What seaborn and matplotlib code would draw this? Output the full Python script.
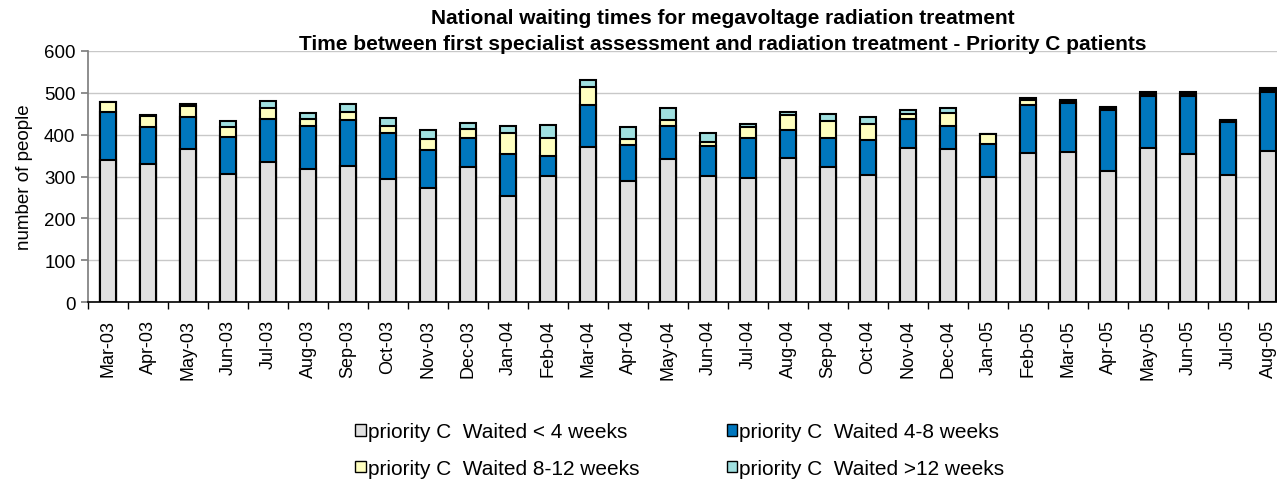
import numpy as np
import pandas as pd
import matplotlib
matplotlib.use("Agg")
import matplotlib.pyplot as plt
from matplotlib.patches import Patch
import seaborn as sns

months = ["Mar-03", "Apr-03", "May-03", "Jun-03", "Jul-03", "Aug-03", "Sep-03", "Oct-03",
          "Nov-03", "Dec-03", "Jan-04", "Feb-04", "Mar-04", "Apr-04", "May-04", "Jun-04",
          "Jul-04", "Aug-04", "Sep-04", "Oct-04", "Nov-04", "Dec-04", "Jan-05", "Feb-05",
          "Mar-05", "Apr-05", "May-05", "Jun-05", "Jul-05", "Aug-05"]

under4 = [339, 329, 365, 306, 335, 319, 326, 294, 273, 322, 254, 302, 371, 290, 341, 302,
          297, 345, 323, 303, 367, 365, 298, 357, 359, 314, 369, 353, 303, 361]
w4_8 = [116, 90, 78, 89, 103, 101, 109, 109, 90, 71, 100, 47, 101, 85, 79, 71,
        96, 66, 68, 84, 71, 56, 80, 115, 117, 146, 123, 139, 127, 142]
w8_12 = [24, 25, 25, 24, 25, 18, 20, 17, 26, 20, 49, 42, 43, 14, 16, 10,
         25, 36, 42, 39, 11, 30, 23, 12, 3, 3, 5, 5, 3, 4]
over12 = [0, 2, 6, 13, 18, 14, 18, 19, 21, 16, 17, 32, 15, 29, 27, 20,
          7, 8, 16, 17, 9, 12, 0, 3, 3, 3, 5, 6, 3, 4]

series_names = ["priority C  Waited < 4 weeks", "priority C  Waited 4-8 weeks",
                "priority C  Waited 8-12 weeks", "priority C  Waited >12 weeks"]
colors = ["#E0E0E0", "#0077BE", "#FFFFC0", "#A0E0E0"]

df = pd.DataFrame({"month": months, "s1": under4, "s2": w4_8, "s3": w8_12, "s4": over12})
c1 = df["s1"]
c2 = c1 + df["s2"]
c3 = c2 + df["s3"]
c4 = c3 + df["s4"]

sns.set_theme(style="white")
plt.rcParams["font.family"] = ["Liberation Sans", "DejaVu Sans"]
plt.rcParams["text.color"] = "black"
plt.rcParams["axes.labelcolor"] = "black"
plt.rcParams["xtick.color"] = "black"
plt.rcParams["ytick.color"] = "black"

fig = plt.figure(figsize=(12.77, 4.85), dpi=100)
L, R = 88 / 1277, 1288 / 1277
B, T = (485 - 303) / 485, (485 - 52) / 485
ax = fig.add_axes([L, B, R - L, T - B])

for cum, col in zip([c4, c3, c2, c1], colors[::-1]):
    sns.barplot(x=df["month"], y=cum, color=col, width=0.4, edgecolor="black",
                linewidth=1.5, saturation=1, ax=ax, order=months, errorbar=None)

ax.set_ylim(0, 600)
ax.set_xlim(-0.5, len(months) - 0.5)
ax.set_yticks(range(0, 601, 100))
ax.yaxis.grid(True, color="#C8C8C8", linewidth=1)
ax.set_axisbelow(True)
ax.set_xlabel("")
ax.set_ylabel("number of people", fontsize=13.5, labelpad=8, color="black")

ax.set_xticks(range(len(months)))
ax.set_xticklabels(months, rotation=90, fontsize=13)
ax.set_xticks(np.arange(-0.5, len(months), 1), minor=True)
ax.tick_params(axis="x", which="major", length=0, pad=12, labelcolor="black")
ax.tick_params(axis="x", which="minor", length=5, color="black", direction="out", bottom=True)
ax.tick_params(axis="y", length=5, color="#808080", direction="out", left=True,
               labelsize=13.5, pad=4, labelcolor="black")

for s in ["top", "right"]:
    ax.spines[s].set_visible(False)
ax.spines["left"].set_color("#808080")
ax.spines["bottom"].set_color("black")
ax.spines["bottom"].set_linewidth(1.2)

fig.text(723 / 1277, 1 - 18 / 485, "National waiting times for megavoltage radiation treatment",
         ha="center", va="center", fontsize=15, fontweight="bold", color="black")
fig.text(723 / 1277, 1 - 45 / 485,
         "Time between first specialist assessment and radiation treatment - Priority C patients",
         ha="center", va="center", fontsize=15, fontweight="bold", color="black")

handles = [Patch(facecolor=c, edgecolor="black", linewidth=1) for c in colors]
order = [0, 2, 1, 3]
leg = fig.legend([handles[i] for i in order], [series_names[i] for i in order],
                 loc="center", bbox_to_anchor=(680 / 1277, 1 - 451 / 485), ncol=2,
                 frameon=False, fontsize=15, handlelength=0.5, handleheight=0.5,
                 handletextpad=0.1, columnspacing=4.2, labelspacing=0.85)
for t in leg.get_texts():
    t.set_color("black")

fig.savefig("out.png", dpi=100)
